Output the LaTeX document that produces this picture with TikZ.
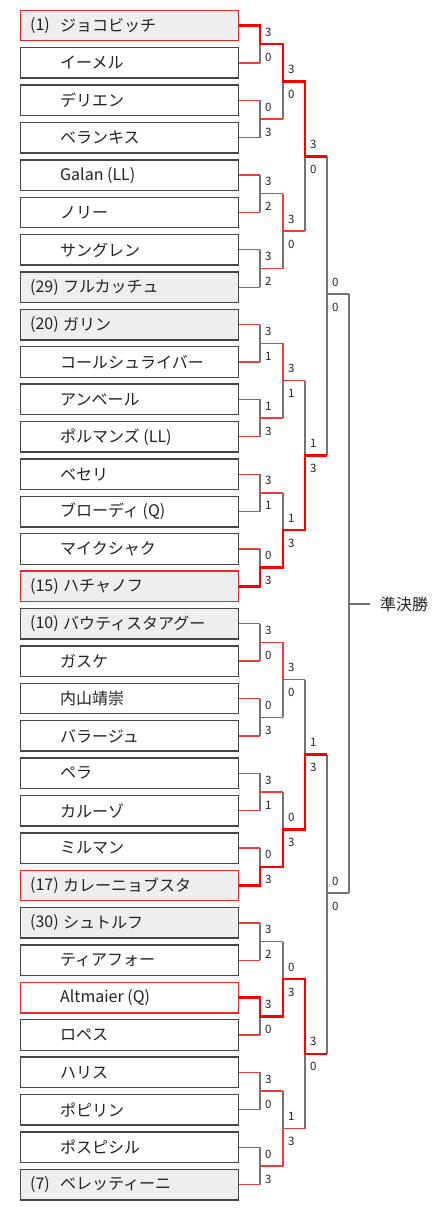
\documentclass[tikz,border=0pt]{standalone}
\usepackage{fontspec}
\setmainfont{Noto Sans CJK JP}
\usetikzlibrary{calc}
\definecolor{boxgray}{RGB}{70,70,70}
\definecolor{seedfill}{RGB}{238,238,238}
\definecolor{linegray}{RGB}{115,115,115}
\definecolor{thinred}{RGB}{240,60,60}
\definecolor{hired}{RGB}{250,0,0}
\definecolor{boxred}{RGB}{238,40,40}
\definecolor{txt}{RGB}{35,35,35}
\begin{document}
\begin{tikzpicture}[x=1pt,y=-1pt,
  box/.style={draw=boxgray,line width=1.4pt,minimum width=218pt,minimum height=30.5pt,inner sep=0pt,outer sep=0pt},
  nm/.style={anchor=west,inner sep=0pt,font=\fontsize{16}{18}\selectfont,text=txt},
  sc/.style={anchor=west,inner sep=0pt,font=\fontsize{11.5}{13}\selectfont,text=txt},
  gl/.style={draw=linegray,line width=1.6pt},
  rl/.style={draw=thinred,line width=1.3pt},
  tl/.style={draw=hired,line width=2.4pt},
]
\useasboundingbox (0,0) rectangle (440,1210);

% player boxes
\foreach \i/\nx/\name/\fc/\dc in {
  0/60/ジョコビッチ/seedfill/boxred,
  1/60/イーメル/white/boxgray,
  2/60/デリエン/white/boxgray,
  3/60/ベランキス/white/boxgray,
  4/60/Galan (LL)/white/boxgray,
  5/60/ノリー/white/boxgray,
  6/60/サングレン/white/boxgray,
  7/63/フルカッチュ/seedfill/boxgray,
  8/63/ガリン/seedfill/boxgray,
  9/60/コールシュライバー/white/boxgray,
  10/60/アンベール/white/boxgray,
  11/60/ポルマンズ (LL)/white/boxgray,
  12/60/ベセリ/white/boxgray,
  13/60/ブローディ (Q)/white/boxgray,
  14/60/マイクシャク/white/boxgray,
  15/63/ハチャノフ/seedfill/boxred,
  16/63/バウティスタアグー/seedfill/boxgray,
  17/60/ガスケ/white/boxgray,
  18/60/内山靖崇/white/boxgray,
  19/60/バラージュ/white/boxgray,
  20/60/ペラ/white/boxgray,
  21/60/カルーゾ/white/boxgray,
  22/60/ミルマン/white/boxgray,
  23/63/カレーニョブスタ/seedfill/boxred,
  24/63/シュトルフ/seedfill/boxgray,
  25/60/ティアフォー/white/boxgray,
  26/60/Altmaier (Q)/white/boxred,
  27/60/ロペス/white/boxgray,
  28/60/ハリス/white/boxgray,
  29/60/ポピリン/white/boxgray,
  30/60/ポスピシル/white/boxgray,
  31/60/ベレッティーニ/seedfill/boxgray}{
  \pgfmathsetmacro{\y}{25.5+37.39*\i}
  \node[box,fill=\fc,draw=\dc] (p\i) at (129.5,\y) {};
  \node[nm] (n\i) at (\nx,\y) {\name};
}
\foreach \i/\s in {0/{(1)},7/{(29)},8/{(20)},15/{(15)},16/{(10)},23/{(17)},24/{(30)},31/{(7)}}{
  \pgfmathsetmacro{\y}{25.5+37.39*\i}
  \node[nm] (s\i) at (30,\y) {\s};
}

% junction coordinates
\foreach \k in {0,...,15}{\pgfmathsetmacro{\y}{44.195+74.78*\k}\coordinate (a\k) at (260,\y);}
\foreach \k in {0,...,7}{\pgfmathsetmacro{\y}{81.585+149.56*\k}\coordinate (b\k) at (283,\y);}
\foreach \k in {0,...,3}{\pgfmathsetmacro{\y}{156.365+299.12*\k}\coordinate (c\k) at (305,\y);}
\coordinate (d0) at (327,294);
\coordinate (d1) at (327,893);
\coordinate (e) at (349,604);
\node[anchor=west,inner xsep=10pt,inner ysep=0pt,font=\fontsize{16}{18}\selectfont,text=txt] (sf) at (370,604) {準決勝};

% gray verticals
\foreach \k in {0,...,15}{
  \pgfmathtruncatemacro{\t}{2*\k}\pgfmathtruncatemacro{\u}{2*\k+1}
  \draw[gl] (p\t.east -| a\k) -- (p\u.east -| a\k);}
\foreach \k in {0,...,7}{
  \pgfmathtruncatemacro{\t}{2*\k}\pgfmathtruncatemacro{\u}{2*\k+1}
  \draw[gl] (a\t -| b\k) -- (a\u -| b\k);}
\foreach \k in {0,...,3}{
  \pgfmathtruncatemacro{\t}{2*\k}\pgfmathtruncatemacro{\u}{2*\k+1}
  \draw[gl] (b\t -| c\k) -- (b\u -| c\k);}
\draw[gl] (c0 -| d0) -- (c1 -| d0);
\draw[gl] (c2 -| d1) -- (c3 -| d1);
\draw[gl] (d0 -| e) -- (d1 -| e);
\draw[gl] (d0) -- (d0 -| e);
\draw[gl] (d1) -- (d1 -| e);
\draw[gl] (e) -- (sf.west);

% thin red lines
\foreach \i in {0,...,31}{\draw[rl] (p\i.east) -- (p\i.east -| a0);}
\foreach \k in {0,...,15}{\pgfmathtruncatemacro{\h}{div(\k,2)}\draw[rl] (a\k) -- (a\k -| b\h);}
\foreach \k in {0,...,7}{\pgfmathtruncatemacro{\h}{div(\k,2)}\draw[rl] (b\k) -- (b\k -| c\h);}
\draw[rl] (a2 -| b1) -- (b1);
\draw[rl] (a4 -| b2) -- (b2);
\draw[rl] (a8 -| b4) -- (b4);
\draw[rl] (b7) -- (a15 -| b7);

% thick red paths
\draw[tl] (p0.east) -- (p0.east -| a0) -- (a0) -- (a0 -| b0) -- (b0) -- (b0 -| c0) -- (c0) -- (c0 -| d0);
\draw[tl] (p15.east) -- (p15.east -| a7) -- (a7) -- (a7 -| b3) -- (b3) -- (b3 -| c1) -- (c1) -- (c1 -| d0);
\draw[tl] (p23.east) -- (p23.east -| a11) -- (a11) -- (a11 -| b5) -- (b5) -- (b5 -| c2) -- (c2) -- (c2 -| d1);
\draw[tl] (p26.east) -- (p26.east -| a13) -- (a13) -- (a13 -| b6) -- (b6) -- (b6 -| c3) -- (c3) -- (c3 -| d1);

% scores
\foreach \t/\u [count=\k from 0] in {3/0,0/3,3/2,3/2,3/1,1/3,3/1,0/3,3/0,0/3,3/1,0/3,3/2,3/0,3/0,0/3}{
  \node[sc] (sa\k) at ($(a\k)+(5,-12)$) {\t};
  \node[sc] (sb\k) at ($(a\k)+(5,13)$) {\u};}
\foreach \t/\u [count=\k from 0] in {3/0,3/0,3/1,1/3,3/0,0/3,0/3,1/3}{
  \node[sc] (ta\k) at ($(b\k)+(5,-12)$) {\t};
  \node[sc] (tb\k) at ($(b\k)+(5,13)$) {\u};}
\foreach \t/\u [count=\k from 0] in {3/0,1/3,1/3,3/0}{
  \node[sc] (ua\k) at ($(c\k)+(5,-12)$) {\t};
  \node[sc] (ub\k) at ($(c\k)+(5,13)$) {\u};}
\foreach \k in {0,1}{
  \node[sc] (va\k) at ($(d\k)+(5,-12)$) {0};
  \node[sc] (vb\k) at ($(d\k)+(5,13)$) {0};}
\end{tikzpicture}
\end{document}
